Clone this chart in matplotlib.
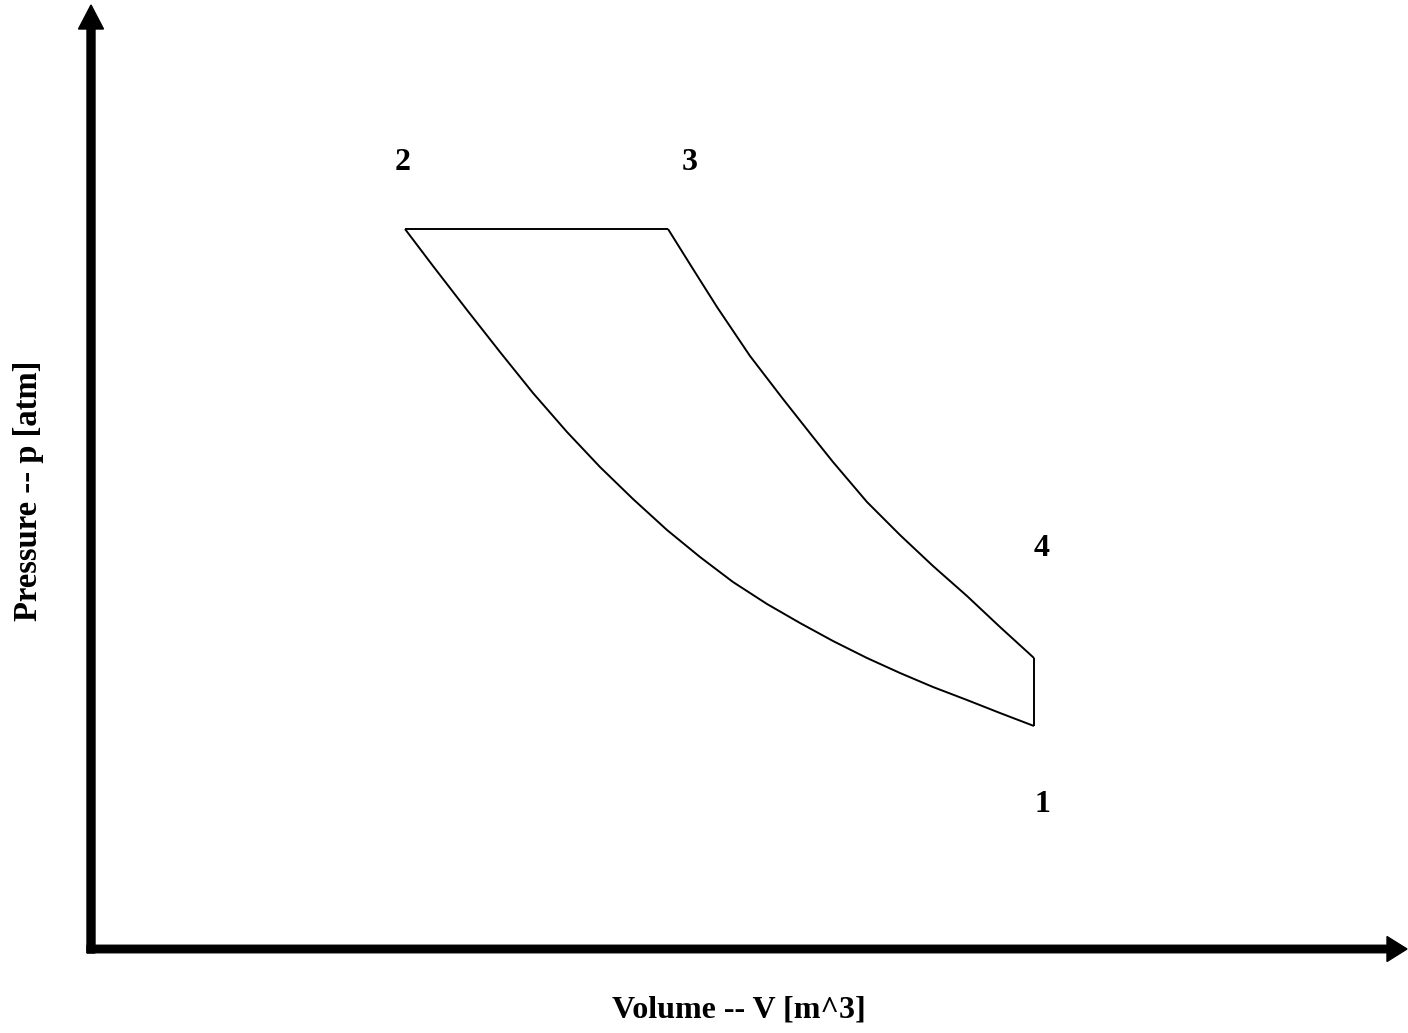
import numpy as np
from matplotlib import pyplot as plt

# Diesel cycle p-V diagram, units are arbitrary
vComp = [3.13, 3.41, 3.75, 4.08, 4.41, 4.75, 5.08, 5.41, 5.75, 6.08,
         6.41, 6.75, 7.08, 7.41, 7.75, 8.08, 8.41, 8.75, 9.08, 9.42]
pComp = [7.19, 6.82, 6.38, 5.96, 5.55, 5.16, 4.81, 4.49, 4.18, 3.91,
         3.66, 3.44, 3.25, 3.07, 2.90, 2.75, 2.61, 2.48, 2.35, 2.22]

vExp = [5.76, 6.01, 6.25, 6.58, 6.91, 7.21, 7.41, 7.75, 8.08, 8.41, 8.75, 9.08, 9.42]
pExp = [7.19, 6.79, 6.41, 5.92, 5.49, 5.11, 4.86, 4.46, 4.13, 3.82, 3.52, 3.21, 2.90]

# state points 1..4
stateLabels = ['1', '2', '3', '4']
stateV = [9.42, 3.13, 5.76, 9.42]
stateP = [2.22, 7.19, 7.19, 2.90]
labelV = [9.50, 3.11, 5.98, 9.50]
labelP = [1.43, 7.85, 7.85, 3.99]

xLabel = 'Volume -- V [m^3]'
yLabel = 'Pressure -- p [atm]'

plt.rcParams['font.family'] = ['Liberation Serif', 'DejaVu Serif']

fig = plt.figure(figsize=(14.08, 10.33), dpi=100)
ax = fig.add_axes([0, 0, 1, 1])
ax.set_xlim(-0.92, 13.16)
ax.set_ylim(-0.85, 9.48)
ax.axis('off')

# cycle: 1->2 compression, 2->3 constant pressure, 3->4 expansion, 4->1 constant volume
lineKw = dict(color='black', lw=1.4, solid_joinstyle='round', solid_capstyle='butt')
ax.plot(vComp, pComp, **lineKw)
ax.plot([stateV[1], stateV[2]], [stateP[1], stateP[2]], **lineKw)
ax.plot(vExp, pExp, **lineKw)
ax.plot([stateV[3], stateV[0]], [stateP[3], stateP[0]], **lineKw)

for lab, lv, lp in zip(stateLabels, labelV, labelP):
  ax.text(lv, lp, lab, fontsize=23, fontweight='bold', ha='center', va='center')

# hand drawn style axes with arrow heads
ax.arrow(-0.01, -0.05, 0, 9.24, width=0.08, head_width=0.25, head_length=0.24,
         length_includes_head=False, color='black', clip_on=False)
ax.arrow(-0.05, -0.01, 13.0, 0, width=0.075, head_width=0.25, head_length=0.2,
         length_includes_head=False, color='black', clip_on=False)

ax.text(6.47, -0.62, xLabel, fontsize=23, fontweight='bold', ha='center', va='center')
ax.text(-0.63, 4.57, yLabel, fontsize=23.5, fontweight='bold', ha='center', va='center',
        rotation=90)

fig.savefig('out.png', dpi=100)
